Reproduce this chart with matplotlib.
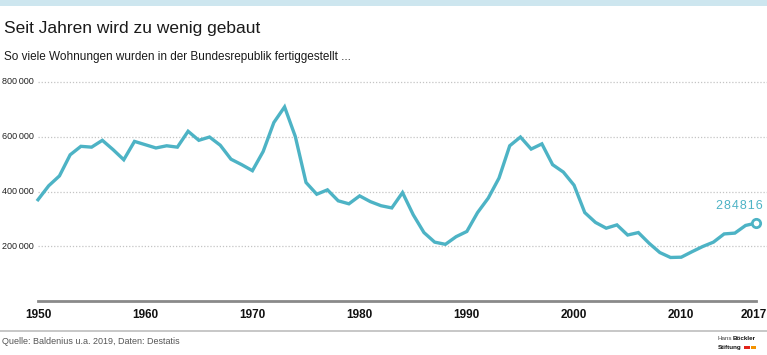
import numpy as np
import matplotlib
matplotlib.use("Agg")
import matplotlib.pyplot as plt
from matplotlib.transforms import blended_transform_factory

# Fertiggestellte Wohnungen je Jahr
jahre = list(range(1950, 2018))
wohnungen = [
    370000, 421000, 457000, 534000, 565000, 562000, 587000, 553000, 516000, 583000,
    571000, 559000, 567000, 562000, 620000, 587000, 599000, 569000, 518000, 498000,
    476000, 546000, 652000, 709000, 601000, 433000, 390000, 406000, 366000, 355000,
    384000, 363000, 348000, 340000, 396000, 315000, 250000, 215000, 207000, 235000,
    254000, 323000, 376000, 449000, 567000, 599000, 555000, 574000, 498000, 471000,
    423000, 323000, 287000, 266000, 278000, 241000, 250000, 211000, 177000, 159000,
    160000, 180000, 199000, 215000, 245000, 248000, 276000, 284816,
]
y_ticks = [200000, 400000, 600000, 800000]
y_labels = ["200\u2009000", "400\u2009000", "600\u2009000", "800\u2009000"]
x_ticks = [1950, 1960, 1970, 1980, 1990, 2000, 2010, 2017]

titel = "Seit Jahren wird zu wenig gebaut"
untertitel = "So viele Wohnungen wurden in der Bundesrepublik fertiggestellt ..."
quelle = "Quelle: Baldenius u.a. 2019, Daten: Destatis"
wert_label = "2\u200a8\u200a4\u200a8\u200a1\u200a6"

teal = "#4db3c5"
schrift = ["Liberation Sans", "DejaVu Sans"]

W, H = 767, 355
fig = plt.figure(figsize=(W / 100, H / 100), dpi=100)
fig.patch.set_facecolor("white")

def fx(px):
    return px / W

def fy(py):
    return 1 - py / H

# Balken oben
fig.add_artist(plt.Rectangle((0, fy(6)), 1, 6 / H, transform=fig.transFigure,
                             color="#cde6ef", lw=0))

fig.text(fx(4), fy(28), titel, fontsize=12.5, family=schrift, color="#1a1a1a", va="center")
fig.text(fx(4), fy(57), untertitel, fontsize=8.5, family=schrift, color="#1a1a1a", va="center")

# Achse
ax = fig.add_axes([fx(38), fy(301), fx(756.3) - fx(38), (301 - 82) / H])
ax.set_xlim(1950, 2017)
ax.set_ylim(0, 800000)
ax.patch.set_alpha(0)
for s in ["top", "right", "left"]:
    ax.spines[s].set_visible(False)
ax.spines["bottom"].set_color("#8a8a8a")
ax.spines["bottom"].set_linewidth(2)

for v in y_ticks:
    ax.plot([1950, 2018], [v, v], color="#c4c4c4", lw=0.9, ls=(0, (1, 1.5)),
            clip_on=False, zorder=1)
ax.set_yticks([])

trans = blended_transform_factory(fig.transFigure, ax.transData)
for v, lab in zip(y_ticks, y_labels):
    ax.text(fx(2), v, lab, transform=trans, fontsize=6.5, family=schrift,
            color="#222222", va="center", ha="left")

# Jahreszahlen unten
xtrans = blended_transform_factory(ax.transData, fig.transFigure)
for t in x_ticks:
    if t == x_ticks[-1]:
        fig.text(fx(767), fy(315), str(t), fontsize=8.5, fontweight="bold",
                 family=schrift, color="#111111", ha="right", va="center")
    else:
        ax.text(t, fy(315), str(t), transform=xtrans,
                fontsize=8.5, fontweight="bold", family=schrift, color="#111111",
                ha="center", va="center")
ax.set_xticks([])

ax.plot(jahre, wohnungen, color=teal, lw=2.4, clip_on=False, zorder=3,
        solid_joinstyle="miter")
ax.plot(jahre[-1], wohnungen[-1], "o", ms=6, mfc="white", mec=teal, mew=2,
        clip_on=False, zorder=4)
ax.text(jahre[-1] + 0.6, wohnungen[-1] + 42000, wert_label,
        fontsize=9, family=schrift, color=teal, ha="right", va="bottom")

# Trennlinie unten
fig.add_artist(plt.Line2D([0, 1], [fy(331), fy(331)], transform=fig.transFigure,
                          color="#bdbdbd", lw=1.2))
fig.text(fx(2), fy(342), quelle, fontsize=6.5, family=schrift, color="#555555", va="center")

# Logo
fig.text(fx(718), fy(339), "Hans", fontsize=4.5, family=schrift, color="#444444", va="center")
fig.text(fx(733), fy(339), "Böckler", fontsize=4.5, family=schrift, color="#111111",
         fontweight="bold", va="center")
fig.text(fx(718), fy(347), "Stiftung", fontsize=4.5, family=schrift, color="#111111",
         fontweight="bold", va="center")
fig.add_artist(plt.Rectangle((fx(744), fy(349)), 6 / W, 3.5 / H, transform=fig.transFigure,
                             color="#e2231a", lw=0))
fig.add_artist(plt.Rectangle((fx(750.5), fy(349)), 5 / W, 3.5 / H, transform=fig.transFigure,
                             color="#f39200", lw=0))

fig.savefig("out.png", dpi=100)
